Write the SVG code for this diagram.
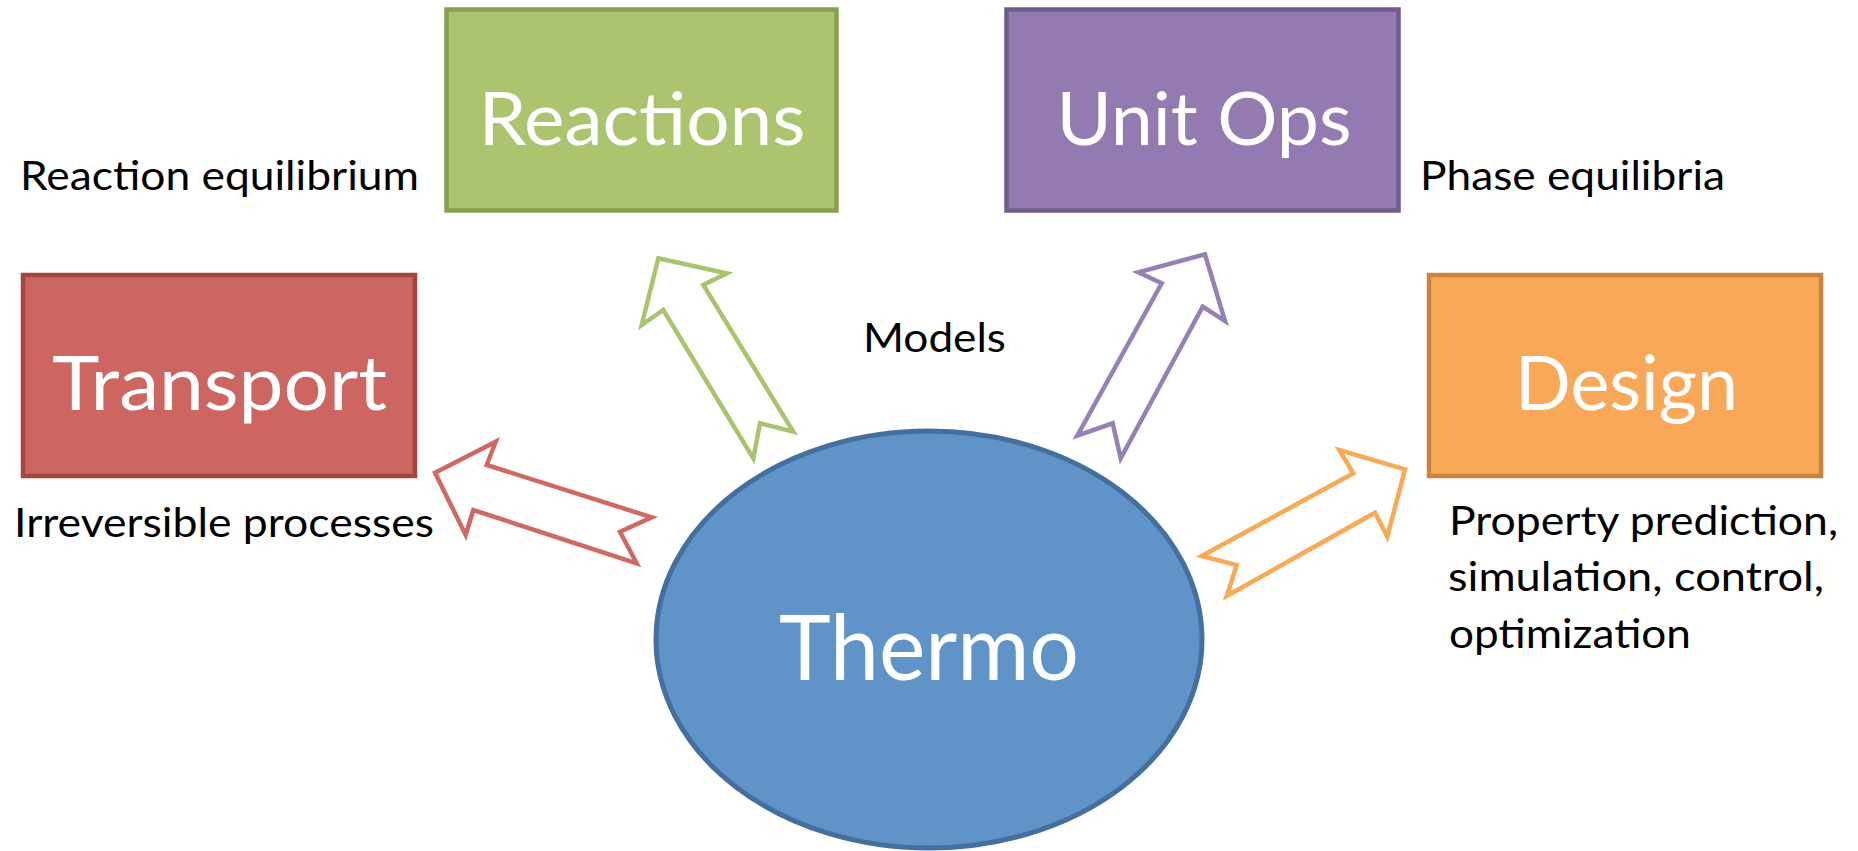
<svg xmlns="http://www.w3.org/2000/svg" width="1858" height="851" viewBox="0 0 1858 851">
<style>
.box{stroke-width:4.5}
.nt{font-family:Lato,"Open Sans","Liberation Sans",sans-serif;fill:#fff;text-anchor:middle}
.lbl{font-family:Lato,"Open Sans","Liberation Sans",sans-serif;fill:#000;font-size:41px}
.arr{fill:#fff;stroke-width:4.5;stroke-linejoin:miter}
</style>
<rect width="1858" height="851" fill="#fff"/>
<g id="connectors">
<polygon class="arr" stroke="#A9C46C" points="658.3,258.3 726.7,273.3 703.3,285 793.3,431.7 760,423.3 753.3,458.3 663.3,310 641.7,325"/>
<polygon class="arr" stroke="#9680B5" points="1205,254.3 1225,321 1202.7,306.7 1120.7,458.3 1112.7,423.3 1077.3,435.7 1161.7,283.3 1138.3,272.3"/>
<polygon class="arr" stroke="#CF6962" points="435,472.7 495.7,441.7 486.7,465 651.7,517.3 620,531.7 636.7,563.3 473.3,510 465.7,535"/>
<polygon class="arr" stroke="#FAA955" points="1405,469.3 1339.3,450 1353.3,473.3 1201.7,556 1236.7,565 1226.7,596 1375,512.7 1387.3,536.7"/>
</g>
<g id="reactions">
<rect class="box" x="446.5" y="9.5" width="390" height="201" fill="#ABC56F" stroke="#87A150"/>
<text class="nt" x="642" y="145" font-size="74" textLength="327" lengthAdjust="spacingAndGlyphs">Reactions</text>
</g>
<g id="unitops">
<rect class="box" x="1006.5" y="9.5" width="392" height="201" fill="#937BB1" stroke="#705C8C"/>
<text class="nt" x="1204" y="145" font-size="74" textLength="295" lengthAdjust="spacingAndGlyphs">Unit Ops</text>
</g>
<g id="transport">
<rect class="box" x="23" y="275" width="392" height="201" fill="#CD6660" stroke="#A5453F"/>
<text class="nt" x="219.5" y="410" font-size="75" textLength="335" lengthAdjust="spacingAndGlyphs">Transport</text>
</g>
<g id="design">
<rect class="box" x="1429" y="275" width="392" height="201" fill="#F8A857" stroke="#C98540"/>
<text class="nt" x="1626.5" y="410" font-size="75" textLength="223" lengthAdjust="spacingAndGlyphs">Design</text>
</g>
<g id="thermo">
<ellipse cx="929" cy="639.5" rx="273" ry="208.5" fill="#6094C8" stroke="#43709F" stroke-width="5"/>
<text class="nt" x="929" y="680" font-size="91" textLength="300" lengthAdjust="spacingAndGlyphs">Thermo</text>
</g>
<g id="labels">
<text class="lbl" x="20" y="190" textLength="399" lengthAdjust="spacingAndGlyphs">Reaction equilibrium</text>
<text class="lbl" x="1420" y="190" textLength="305" lengthAdjust="spacingAndGlyphs">Phase equilibria</text>
<text class="lbl" x="863" y="352" textLength="143" lengthAdjust="spacingAndGlyphs">Models</text>
<text class="lbl" x="14" y="537" textLength="420" lengthAdjust="spacingAndGlyphs">Irreversible processes</text>
<text class="lbl" x="1449" y="535" textLength="389" lengthAdjust="spacingAndGlyphs">Property prediction,</text>
<text class="lbl" x="1448" y="591" textLength="376" lengthAdjust="spacingAndGlyphs">simulation, control,</text>
<text class="lbl" x="1449" y="648" textLength="242" lengthAdjust="spacingAndGlyphs">optimization</text>
</g>
</svg>
